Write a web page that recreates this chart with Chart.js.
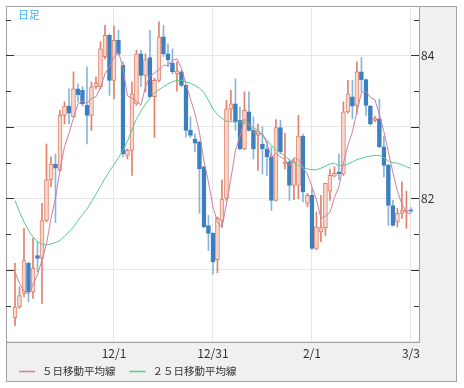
<!DOCTYPE html>
<html>
<head>
<meta charset="utf-8">
<script src="https://cdn.jsdelivr.net/npm/chart.js@4.4.1/dist/chart.umd.min.js"></script>
<style>
  html, body { margin: 0; padding: 0; background: #fff; }
</style>
</head>
<body>
<canvas id="myChart" width="464" height="388"></canvas>
<script>
// trading days, 2010/11/1 - 2011/3/3
var dates = [
  "11/1", "11/2", "11/3", "11/4", "11/5", "11/8", "11/9", "11/10", "11/11", "11/12",
  "11/15", "11/16", "11/17", "11/18", "11/19", "11/22", "11/23", "11/24", "11/25", "11/26",
  "11/29", "11/30", "12/1", "12/2", "12/3", "12/6", "12/7", "12/8", "12/9", "12/10",
  "12/13", "12/14", "12/15", "12/16", "12/17", "12/20", "12/21", "12/22", "12/23", "12/24",
  "12/27", "12/28", "12/29", "12/30", "12/31", "1/3", "1/4", "1/5", "1/6", "1/7",
  "1/10", "1/11", "1/12", "1/13", "1/14", "1/17", "1/18", "1/19", "1/20", "1/21",
  "1/24", "1/25", "1/26", "1/27", "1/28", "1/31", "2/1", "2/2", "2/3", "2/4",
  "2/7", "2/8", "2/9", "2/10", "2/11", "2/14", "2/15", "2/16", "2/17", "2/18",
  "2/21", "2/22", "2/23", "2/24", "2/25", "2/28", "3/1", "3/2", "3/3"
];
var tickLabels = ["12/1", "12/31", "2/1", "3/3"];
var yGrid = [80, 81, 82, 83, 84];
var yLabels = [82, 84];

var open = [
  80.33, 80.48, 80.67, 81.09, 80.69, 81.20, 81.16, 81.69, 82.26, 82.48,
  82.39, 83.16, 83.29, 83.14, 83.53, 83.51, 83.30, 83.16, 83.56, 83.56,
  83.98, 84.28, 83.65, 84.21, 83.86, 82.60, 82.67, 83.32, 84.02, 83.72,
  83.97, 83.42, 83.65, 84.26, 84.02, 83.89, 83.74, 83.77, 83.58, 82.95,
  82.83, 82.79, 82.44, 81.62, 81.51, 81.14, 81.69, 82.00, 83.25, 83.32,
  83.09, 82.69, 83.21, 82.95, 82.88, 82.76, 82.69, 82.58, 81.97, 82.99,
  82.48, 82.51, 82.18, 82.18, 82.87, 81.93, 82.04, 81.30, 81.53, 81.59,
  82.10, 82.31, 82.37, 82.34, 83.21, 83.42, 83.30, 83.77, 83.66, 83.29,
  83.09, 83.11, 82.72, 82.46, 81.90, 81.67, 81.79, 81.81, 81.84
];
var high = [
  81.09, 80.76, 81.58, 81.11, 81.44, 81.39, 81.93, 82.76, 82.58, 82.62,
  83.23, 83.35, 83.53, 83.77, 83.60, 83.56, 83.84, 83.63, 83.70, 84.19,
  84.42, 84.30, 84.41, 84.35, 83.91, 82.69, 83.63, 84.07, 84.07, 84.02,
  84.35, 83.68, 84.47, 84.42, 84.16, 84.09, 83.91, 83.79, 83.59, 83.14,
  82.90, 82.80, 82.45, 81.76, 81.52, 81.74, 82.26, 83.37, 83.51, 83.67,
  83.28, 83.49, 83.49, 83.14, 83.04, 83.00, 82.80, 82.72, 83.10, 83.09,
  82.91, 82.55, 82.55, 83.16, 82.90, 82.07, 82.14, 81.81, 82.04, 82.21,
  82.41, 82.44, 82.62, 83.35, 83.65, 83.65, 83.91, 83.97, 83.67, 83.30,
  83.15, 83.39, 82.87, 82.48, 81.97, 81.86, 82.23, 82.10, 81.87
];
var low = [
  80.22, 80.46, 80.62, 80.55, 80.60, 80.97, 80.53, 81.67, 82.16, 81.66,
  82.38, 83.04, 83.04, 83.13, 83.35, 83.29, 82.76, 82.95, 83.53, 83.53,
  83.95, 83.44, 83.39, 84.00, 82.58, 82.55, 82.32, 83.30, 83.56, 83.49,
  83.41, 82.85, 83.63, 83.98, 83.84, 83.74, 83.50, 83.56, 82.86, 82.85,
  82.65, 81.79, 81.59, 81.27, 80.94, 80.96, 81.60, 81.97, 83.09, 82.95,
  82.68, 82.68, 82.94, 82.55, 82.39, 82.34, 82.32, 81.83, 81.96, 82.62,
  82.41, 81.97, 81.98, 81.99, 81.95, 81.88, 81.28, 81.28, 81.39, 81.48,
  81.97, 82.30, 82.26, 82.32, 83.19, 83.11, 83.18, 83.49, 83.16, 83.02,
  83.07, 82.71, 82.30, 81.62, 81.61, 81.60, 81.72, 81.58, 81.80
];
var close = [
  80.48, 80.64, 81.13, 80.69, 81.02, 81.16, 81.69, 82.26, 82.48, 82.42,
  83.16, 83.29, 83.19, 83.53, 83.45, 83.32, 83.16, 83.56, 83.61, 84.09,
  84.28, 83.65, 84.21, 84.02, 82.62, 82.67, 83.46, 84.02, 83.72, 83.94,
  83.42, 83.65, 84.26, 84.02, 83.94, 83.77, 83.78, 83.58, 82.95, 82.88,
  82.77, 82.41, 81.60, 81.51, 81.11, 81.72, 81.99, 83.25, 83.32, 83.07,
  82.69, 83.23, 82.95, 82.69, 82.94, 82.69, 82.58, 81.97, 82.99, 82.65,
  82.51, 82.18, 82.51, 82.87, 82.09, 82.04, 81.30, 81.60, 81.59, 82.21,
  82.32, 82.35, 82.34, 83.21, 83.46, 83.29, 83.77, 83.66, 83.30, 83.04,
  83.12, 82.72, 82.46, 81.90, 81.62, 81.79, 81.83, 81.84, 81.82
];
var ma5 = [
  80.97, 80.81, 80.70, 80.66, 80.79, 80.93, 81.14, 81.36, 81.72, 82.00,
  82.40, 82.72, 82.91, 83.12, 83.32, 83.36, 83.33, 83.40, 83.42, 83.55,
  83.74, 83.84, 83.97, 84.05, 83.82, 83.43, 83.40, 83.36, 83.30, 83.56,
  83.71, 83.75, 83.80, 83.86, 83.86, 83.93, 83.95, 83.82, 83.60, 83.39,
  83.19, 82.92, 82.52, 82.23, 81.88, 81.67, 81.59, 81.92, 82.28, 82.67,
  82.86, 83.11, 83.05, 82.93, 82.90, 82.90, 82.77, 82.57, 82.63, 82.58,
  82.54, 82.46, 82.57, 82.54, 82.43, 82.34, 82.16, 81.98, 81.72, 81.75,
  81.80, 82.01, 82.16, 82.49, 82.74, 82.93, 83.21, 83.48, 83.50, 83.41,
  83.38, 83.17, 82.93, 82.65, 82.36, 82.10, 81.92, 81.80, 81.78
];
var ma25 = [
  81.97, 81.81, 81.67, 81.55, 81.46, 81.39, 81.36, 81.35, 81.36, 81.38,
  81.41, 81.47, 81.53, 81.60, 81.69, 81.77, 81.85, 81.95, 82.06, 82.17,
  82.28, 82.38, 82.47, 82.57, 82.67, 82.80, 82.96, 83.11, 83.22, 83.32,
  83.40, 83.47, 83.52, 83.56, 83.60, 83.63, 83.65, 83.65, 83.63, 83.61,
  83.58, 83.54, 83.48, 83.37, 83.25, 83.17, 83.12, 83.08, 83.07, 83.07,
  83.07, 83.06, 83.03, 82.99, 82.95, 82.89, 82.81, 82.74, 82.68, 82.64,
  82.59, 82.54, 82.50, 82.46, 82.43, 82.41, 82.40, 82.40, 82.42, 82.45,
  82.48, 82.49, 82.46, 82.46, 82.48, 82.51, 82.54, 82.56, 82.58, 82.59,
  82.60, 82.60, 82.57, 82.52, 82.50, 82.49, 82.47, 82.44, 82.42
];

var upLine = "#e2826b";
var upFill = "#f8d8ce";
var downBody = "#3b7fc0";
var downWick = "#86b6e0";
var font = "'Noto Sans CJK JP', sans-serif";

var isUp = close.map(function (c, i) { return c >= open[i]; });

function xy(arr) {
  return arr.map(function (v, i) { return { x: i, y: v }; });
}

var frame = {
  id: "frame",
  beforeDraw: function (chart) {
    var ctx = chart.ctx;
    var a = chart.chartArea;
    ctx.save();
    ctx.fillStyle = "#ffffff";
    ctx.fillRect(0, 0, chart.width, chart.height);
    ctx.fillStyle = "#f0f0f0";
    ctx.fillRect(a.left, a.top, chart.width - 7 - a.left, chart.height - 6 - a.top);
    ctx.fillStyle = "#ffffff";
    ctx.fillRect(a.left, a.top, a.right - a.left, a.bottom - a.top);
    ctx.restore();
  },
  afterDraw: function (chart) {
    var ctx = chart.ctx;
    var a = chart.chartArea;
    var y = chart.scales.y;
    var r = chart.width - 7;
    var b = chart.height - 6;
    ctx.save();
    ctx.lineWidth = 1;

    // outer frame + plot border
    ctx.strokeStyle = "#a3a3a3";
    ctx.strokeRect(a.left + 0.5, a.top + 0.5, r - a.left - 1, b - a.top - 1);
    ctx.beginPath();
    ctx.moveTo(a.right + 0.5, a.top);
    ctx.lineTo(a.right + 0.5, a.bottom + 0.5);
    ctx.lineTo(a.left, a.bottom + 0.5);
    ctx.stroke();

    // tick marks both sides
    ctx.strokeStyle = "#333333";
    ctx.beginPath();
    for (var v = 80.5; v < 84.7; v += 0.5) {
      var py = Math.round(y.getPixelForValue(v)) + 0.5;
      var len = v % 1 === 0 ? 8 : 5;
      ctx.moveTo(a.left, py);
      ctx.lineTo(a.left + len, py);
      ctx.moveTo(a.right, py);
      ctx.lineTo(a.right - len, py);
    }
    ctx.stroke();

    ctx.textBaseline = "middle";
    ctx.font = "11px " + font;
    ctx.fillStyle = "#3fb3e6";
    ctx.fillText("日足", a.left + 12, a.top + 9);

    // legend
    ctx.font = "10.5px " + font;
    var lx = a.left + 13;
    var ly = 371.5;
    chart.data.datasets.forEach(function (ds) {
      if (ds.type !== "line") return;
      ctx.strokeStyle = ds.borderColor;
      ctx.lineWidth = 1.5;
      ctx.beginPath();
      ctx.moveTo(lx, ly);
      ctx.lineTo(lx + 16, ly);
      ctx.stroke();
      ctx.fillStyle = "#333333";
      ctx.fillText(ds.label, lx + 23, ly);
      lx += 23 + ctx.measureText(ds.label).width + 14;
    });
    ctx.restore();
  }
};

var data = {
  datasets: [
    {
      type: "line",
      label: "５日移動平均線",
      data: xy(ma5),
      borderColor: "#cc7fa4",
      borderWidth: 1,
      pointRadius: 0,
      order: 0,
    },
    {
      type: "line",
      label: "２５日移動平均線",
      data: xy(ma25),
      borderColor: "#55cc8e",
      borderWidth: 1,
      pointRadius: 0,
      order: 1,
    },
    {
      type: "bar",
      label: "body",
      data: open.map(function (o, i) { return { x: i, y: [o, close[i]] }; }),
      backgroundColor: isUp.map(function (u) { return u ? upFill : downBody; }),
      borderColor: isUp.map(function (u) { return u ? upLine : downBody; }),
      borderWidth: 1,
      borderSkipped: false,
      barThickness: 4,
      minBarLength: 1,
      grouped: false,
      order: 2,
    },
    {
      type: "bar",
      label: "wick",
      data: low.map(function (l, i) { return { x: i, y: [l, high[i]] }; }),
      backgroundColor: isUp.map(function (u) { return u ? upLine : downWick; }),
      barThickness: 1,
      grouped: false,
      order: 3,
    },
  ],
};

var config = {
  type: "bar",
  data: data,
  plugins: [frame],
  options: {
    responsive: false,
    animation: false,
    layout: { padding: { left: 6, top: 6, right: 7, bottom: 6 } },
    plugins: {
      legend: { display: false },
      tooltip: { enabled: false },
    },
    scales: {
      x: {
        type: "linear",
        min: -2,
        max: 89.8,
        offset: false,
        afterBuildTicks: function (scale) {
          scale.ticks = tickLabels.map(function (t) { return { value: dates.indexOf(t) }; });
        },
        afterFit: function (scale) {
          scale.height = 40;
          scale.paddingLeft = 0;
          scale.paddingRight = 0;
        },
        ticks: {
          callback: function (v) { return dates[v]; },
          font: { family: font, size: 12 },
          color: "#333333",
          padding: 4,
          maxRotation: 0,
          autoSkip: false,
        },
        grid: { color: "#e6e6e6", drawTicks: false, offset: false },
        border: { display: false },
      },
      y: {
        position: "right",
        min: 79.99,
        max: 84.69,
        afterBuildTicks: function (scale) {
          scale.ticks = yGrid.map(function (v) { return { value: v }; });
        },
        afterFit: function (scale) {
          scale.width = 38;
          scale.paddingTop = 0;
          scale.paddingBottom = 0;
        },
        ticks: {
          callback: function (v) { return yLabels.indexOf(v) >= 0 ? String(v) : ""; },
          font: { family: font, size: 12 },
          color: "#333333",
          padding: 2,
        },
        grid: { color: "#e6e6e6", drawTicks: false },
        border: { display: false },
      },
    },
  },
};

var myChart = new Chart(document.getElementById("myChart"), config);
</script>
</body>
</html>
